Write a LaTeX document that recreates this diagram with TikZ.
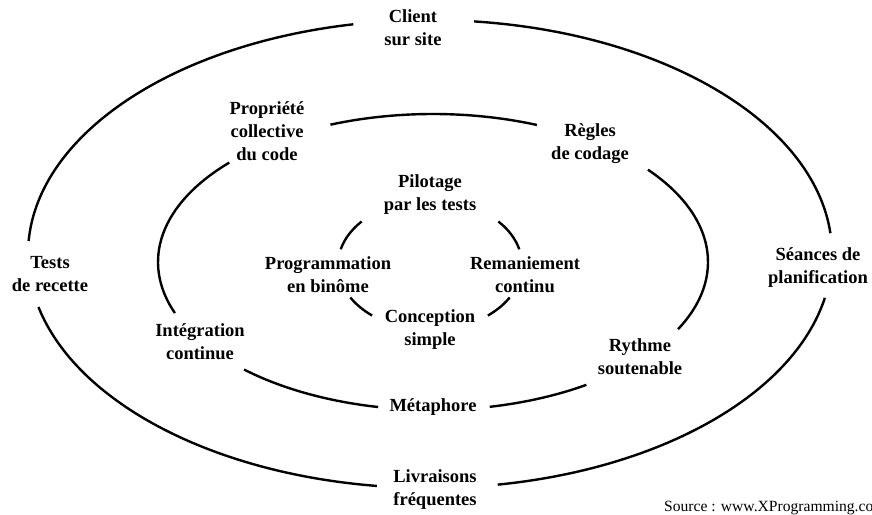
\documentclass[tikz,border=0pt]{standalone}
\usepackage{fontspec}
\setmainfont{Liberation Serif}
\usetikzlibrary{calc}
\begin{document}
\begin{tikzpicture}[x=1pt,y=1pt,
  ring/.style={line width=2.4pt},
  lab/.style={font=\bfseries\fontsize{18.5}{23}\selectfont, align=center, inner sep=0pt},
  src/.style={font=\fontsize{15.6}{18}\selectfont, inner sep=0pt}]
\useasboundingbox (0,0) rectangle (872,514);
% centres
\coordinate (co) at (430,260);
\coordinate (cm) at (433,252);
\coordinate (ci) at (430,249);
% outer ellipse arcs
\foreach \a/\b in {101/176.8, 193.1/262.4, 279.7/349.2, 5.1/83.7}
  \draw[ring] ($(co)+(\a:402 and 234)$) arc[start angle=\a, end angle=\b, x radius=402, y radius=234];
% middle ellipse arcs
\foreach \a/\b in {67.8/111.9, 137.8/200.2, 226.6/258.5, 281.9/303.9, -27/38.6}
  \draw[ring] ($(cm)+(\a:275 and 148)$) arc[start angle=\a, end angle=\b, x radius=275, y radius=148];
% inner ellipse arcs
\foreach \a/\b in {138/166, 14/42, 210/231, 309/330}
  \draw[ring] ($(ci)+(\a:92 and 65)$) arc[start angle=\a, end angle=\b, x radius=92, y radius=65];
% labels
\node[lab] (client) at (413,486) {Client\\sur site};
\node[lab] (seances) at (818,246) {Séances de\\planification};
\node[lab] (livr) at (435,24) {Livraisons\\fréquentes};
\node[lab] (tests) at (50,240) {Tests\\de recette};
\node[lab] (prop) at (267,383) {Propriété\\collective\\du code};
\node[lab] (regles) at (590,370) {Règles\\de codage};
\node[lab] (integ) at (200,172) {Intégration\\continue};
\node[lab] (rythme) at (640,157) {Rythme\\soutenable};
\node[lab] (meta) at (433,107) {Métaphore};
\node[lab] (pilot) at (430,319) {Pilotage\\par les tests};
\node[lab] (prog) at (328,239) {Programmation\\en binôme};
\node[lab] (reman) at (525,239) {Remaniement\\continu};
\node[lab] (conc) at (430,184) {Conception\\simple};
\node[src, anchor=base west] (source) at (664,3) {Source : www.XProgramming.co};
\end{tikzpicture}
\end{document}
